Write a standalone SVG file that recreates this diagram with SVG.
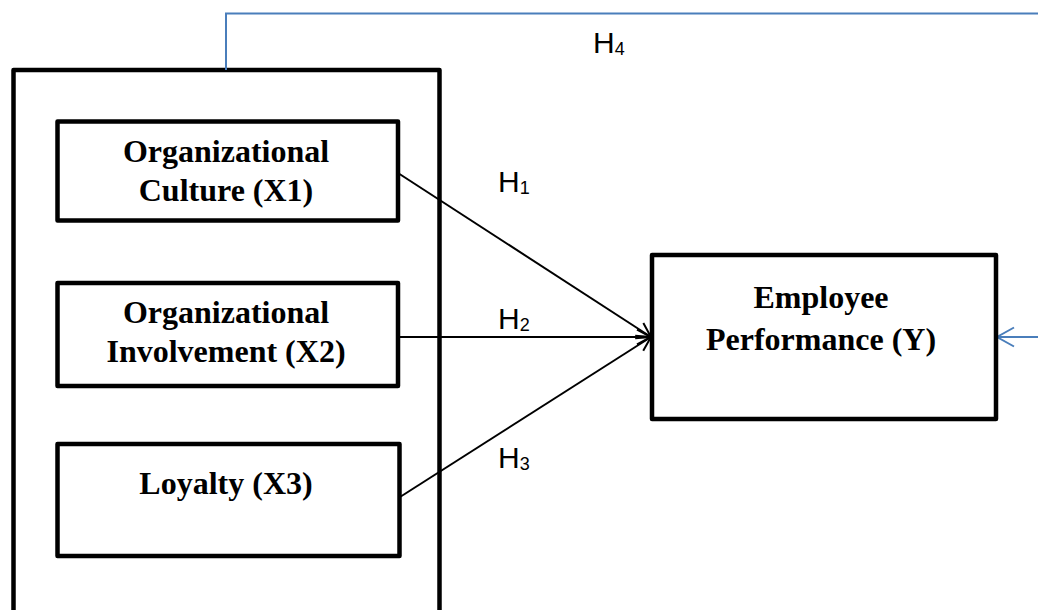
<svg xmlns="http://www.w3.org/2000/svg" width="1038" height="610" viewBox="0 0 1038 610">
<style>
  .box { fill: #ffffff; stroke: #000000; stroke-width: 4.5; stroke-linejoin: round; }
  .outer { fill: none; stroke: #000000; stroke-width: 4.5; stroke-linejoin: round; }
  .lbl { font-family: "Liberation Serif", "Times New Roman", serif; font-weight: bold; font-size: 32px; fill: #000000; text-anchor: middle; }
  .hyp { font-family: "Liberation Sans", Arial, sans-serif; font-size: 30px; fill: #000000; }
  .sub { font-size: 18px; }
  .conn { fill: none; stroke: #000000; stroke-width: 2; }
  .blue { fill: none; stroke: #4a7ebb; stroke-width: 2; }
</style>
<defs>
  <marker id="arrK" markerUnits="userSpaceOnUse" viewBox="-16 -9 18 18" refX="0" refY="0" markerWidth="18" markerHeight="18" orient="auto">
    <path d="M-14,-7.5 L0,0 L-14,7.5" fill="none" stroke="#000000" stroke-width="2"/>
  </marker>
  <marker id="arrB" markerUnits="userSpaceOnUse" viewBox="-20 -12 22 24" refX="0" refY="0" markerWidth="22" markerHeight="24" orient="auto">
    <path d="M-17,-9.5 L0,0 L-17,9.5" fill="none" stroke="#4a7ebb" stroke-width="2"/>
  </marker>
</defs>
<rect width="1038" height="610" fill="#ffffff"/>

<g id="group-x">
  <path class="outer" d="M13.5,620 V70 H439.5 V620"/>
</g>

<g id="connectors">
  <path class="blue" d="M226,70 V13.5 H1042 V337 H997" marker-end="url(#arrB)"/>
  <line class="conn" x1="398" y1="173" x2="651" y2="337" marker-end="url(#arrK)"/>
  <line class="conn" x1="398" y1="337" x2="651" y2="337" marker-end="url(#arrK)"/>
  <line class="conn" x1="400" y1="497" x2="651" y2="337" marker-end="url(#arrK)"/>
  <text class="hyp" x="593" y="53">H<tspan class="sub" dy="2">4</tspan></text>
  <text class="hyp" x="498" y="192">H<tspan class="sub" dy="2">1</tspan></text>
  <text class="hyp" x="498" y="329">H<tspan class="sub" dy="2">2</tspan></text>
  <text class="hyp" x="498" y="468">H<tspan class="sub" dy="2">3</tspan></text>
</g>

<g id="node-x1">
  <rect class="box" x="57.5" y="121.5" width="340.5" height="99"/>
  <text class="lbl" x="226" y="162">Organizational</text>
  <text class="lbl" x="226" y="201">Culture (X1)</text>
</g>

<g id="node-x2">
  <rect class="box" x="57.5" y="283" width="340.5" height="103"/>
  <text class="lbl" x="226" y="323">Organizational</text>
  <text class="lbl" x="226" y="362">Involvement (X2)</text>
</g>

<g id="node-x3">
  <rect class="box" x="57.5" y="444" width="342" height="112"/>
  <text class="lbl" x="226" y="494">Loyalty (X3)</text>
</g>

<g id="node-y">
  <rect class="box" x="652" y="255" width="344" height="164"/>
  <text class="lbl" x="821" y="308">Employee</text>
  <text class="lbl" x="821" y="350">Performance (Y)</text>
</g>
</svg>
